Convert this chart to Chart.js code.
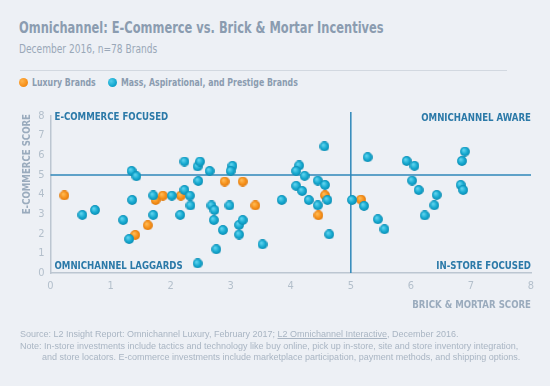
<!DOCTYPE html>
<html lang="en">
<head>
<meta charset="UTF-8" />
<title>Omnichannel: E-Commerce vs. Brick & Mortar Incentives</title>
<script src="https://cdn.jsdelivr.net/npm/chart.js"></script>
<style>
  body { margin: 0; background: #edf0f5; width: 550px; height: 386px; overflow: hidden; position: relative;
         font-family: "DejaVu Sans Condensed", "Liberation Sans", sans-serif; }
  #chart { position: absolute; left: 0; top: 0; }
  .cond { display: inline-block; transform-origin: 0 50%; white-space: nowrap; }
  .title { position: absolute; left: 19px; top: 18px; font-size: 16.5px; font-weight: bold; color: #8b9cb0; transform: scaleX(0.77); }
  .sub { position: absolute; left: 19px; top: 42px; font-size: 12px; color: #9aa8b8; transform: scaleX(0.84); }
  .rule { position: absolute; left: 20px; top: 70px; width: 487px; height: 1px; background: #d2d8e0; }
  .dot { position: absolute; top: 78px; width: 9px; height: 9px; border-radius: 50%; }
  .leg { position: absolute; top: 76px; font-size: 11px; font-weight: bold; color: #8b9cb0; transform: scaleX(0.79); }
  .foot { position: absolute; left: 20px; top: 329px; font-family: "Liberation Sans", sans-serif; font-size: 9px; line-height: 11.5px; color: #a9b5c3; white-space: nowrap; }
  .foot u { text-decoration: underline; }
</style>
</head>
<body>
  <div class="cond title">Omnichannel: E-Commerce vs. Brick &amp; Mortar Incentives</div>
  <div class="cond sub">December 2016, n=78 Brands</div>
  <div class="rule"></div>
  <span class="dot" style="left: 19px; background: radial-gradient(circle at 35% 35%, #ffb44d, #f7901a 60%, #e27c0e);"></span>
  <span class="cond leg" style="left: 32px;">Luxury Brands</span>
  <span class="dot" style="left: 108px; background: radial-gradient(circle at 35% 35%, #52cdea, #14a7cf 60%, #0d8db3);"></span>
  <span class="cond leg" style="left: 121px;">Mass, Aspirational, and Prestige Brands</span>
  <canvas id="chart" width="550" height="386"></canvas>
  <div class="foot">
    Source: L2 Insight Report: Omnichannel Luxury, February 2017; <u>L2 Omnichannel Interactive</u>, December 2016.<br>
    Note: In-store investments include tactics and technology like buy online, pick up in-store, site and store inventory integration,<br>
    <span style="padding-left: 22px;">and store locators. E-commerce investments include marketplace participation, payment methods, and shipping options.</span>
  </div>

<script>
// Luxury brands (orange)
const luxuryX = [0.23, 1.41, 1.62, 1.75, 1.87, 2.17, 2.90, 3.20, 3.41, 4.57, 4.46, 5.17];
const luxuryY = [3.95, 1.94, 2.43, 3.72, 3.94, 3.94, 4.66, 4.66, 3.44, 3.96, 2.94, 3.74];

// Mass, aspirational and prestige brands (cyan)
const massX = [0.53, 0.74, 1.21, 1.35, 1.43, 1.36, 1.31, 1.71, 1.71, 2.02, 2.16, 2.23, 2.23, 2.32, 2.33,
               2.45, 2.49, 2.46, 2.45, 2.65, 2.68, 2.73, 2.72, 2.76, 2.87, 2.98, 3.03, 3.00, 3.14, 3.20,
               3.14, 3.53, 3.85, 4.14, 4.09, 4.23, 4.09, 4.19, 4.30, 4.45, 4.57, 4.56, 4.45, 4.61, 4.64,
               5.02, 5.22, 5.28, 5.45, 5.56, 5.93, 6.06, 6.02, 6.13, 6.43, 6.39, 6.23, 6.90, 6.85, 6.83, 6.87];
const massY = [2.96, 3.21, 2.70, 5.20, 4.93, 3.72, 1.73, 3.95, 2.96, 3.94, 2.96, 5.68, 4.23, 3.94, 3.44,
               5.43, 5.68, 4.69, 0.49, 5.20, 3.44, 3.21, 2.70, 1.21, 2.19, 3.44, 5.46, 5.20, 2.45, 2.70,
               1.96, 1.46, 3.72, 5.48, 5.20, 4.95, 4.44, 4.18, 3.72, 4.71, 4.49, 6.45, 3.45, 3.72, 1.97,
               3.72, 3.42, 5.90, 2.74, 2.23, 5.71, 5.46, 4.71, 4.23, 3.98, 3.45, 2.93, 6.19, 5.71, 4.49, 4.23];

const tickValues = [0, 1, 2, 3, 4, 5, 6, 7, 8];
const xTitle = 'BRICK & MORTAR SCORE';
const yTitle = 'E-COMMERCE SCORE';

// shaded ball used as point image
function ball(light, mid, dark) {
  const c = document.createElement('canvas');
  c.width = 10; c.height = 10;
  const g = c.getContext('2d');
  const grad = g.createRadialGradient(3.6, 3.4, 0.5, 5, 5, 5);
  grad.addColorStop(0, light);
  grad.addColorStop(0.6, mid);
  grad.addColorStop(1, dark);
  g.fillStyle = grad;
  g.beginPath();
  g.arc(5, 5, 4.9, 0, Math.PI * 2);
  g.fill();
  return c;
}

const toPoints = (xs, ys) => xs.map((v, i) => ({ x: v, y: ys[i] }));

const labelFont = 'bold 11px "DejaVu Sans Condensed", sans-serif';
const squeeze = 0.87;

// condensed text on the canvas
function condText(ctx, text, x, y, align) {
  ctx.save();
  ctx.translate(x, y);
  ctx.scale(squeeze, 1);
  ctx.textAlign = align;
  ctx.fillText(text, 0, 0);
  ctx.restore();
}

const quadrants = {
  id: 'quadrants',
  beforeDatasetsDraw(chart) {
    const { ctx, scales: { x, y } } = chart;
    ctx.save();
    ctx.strokeStyle = '#2f87b9';
    ctx.lineWidth = 1.5;
    ctx.beginPath();
    ctx.moveTo(x.getPixelForValue(0), y.getPixelForValue(5));
    ctx.lineTo(x.getPixelForValue(8), y.getPixelForValue(5));
    ctx.moveTo(x.getPixelForValue(5), y.getPixelForValue(8.2));
    ctx.lineTo(x.getPixelForValue(5), y.getPixelForValue(0));
    ctx.stroke();

    ctx.font = labelFont;
    ctx.fillStyle = '#2b79a8';
    ctx.textBaseline = 'middle';
    const l = x.getPixelForValue(0) + 4, r = x.getPixelForValue(8);
    const t = y.getPixelForValue(8) + 1, b = y.getPixelForValue(0) - 7;
    condText(ctx, 'E-COMMERCE FOCUSED', l, t, 'left');
    condText(ctx, 'OMNICHANNEL LAGGARDS', l, b, 'left');
    condText(ctx, 'OMNICHANNEL AWARE', r, t + 1, 'right');
    condText(ctx, 'IN-STORE FOCUSED', r, b, 'right');
    ctx.restore();
  },
  afterDraw(chart) {
    const { ctx, scales: { x, y } } = chart;
    ctx.save();
    ctx.font = labelFont;
    ctx.fillStyle = '#9aabbd';
    ctx.textBaseline = 'middle';
    condText(ctx, xTitle, x.getPixelForValue(8), 305, 'right');
    ctx.translate(27, y.getPixelForValue(8) - 2);
    ctx.rotate(-Math.PI / 2);
    condText(ctx, yTitle, 0, 0, 'right');
    ctx.restore();
  }
};

const axisTicks = {
  color: '#b3bfcb',
  font: { family: '"DejaVu Sans Condensed", sans-serif', size: 11 },
  stepSize: 1,
  autoSkip: false
};

new Chart(document.getElementById('chart'), {
  type: 'scatter',
  data: {
    datasets: [
      {
        label: 'Mass, Aspirational, and Prestige Brands',
        data: toPoints(massX, massY),
        pointStyle: ball('#5fd3ee', '#16a9d0', '#0c8bb1'),
        pointRadius: 5
      },
      {
        label: 'Luxury Brands',
        data: toPoints(luxuryX, luxuryY),
        pointStyle: ball('#ffbb55', '#f7911b', '#de790c'),
        pointRadius: 5
      }
    ]
  },
  options: {
    responsive: false,
    animation: false,
    layout: { padding: { top: 116, right: 19, left: 0, bottom: 0 } },
    plugins: { legend: { display: false }, tooltip: { enabled: false } },
    scales: {
      x: {
        min: 0, max: 8,
        afterBuildTicks: s => { s.ticks = tickValues.map(v => ({ value: v })); },
        afterFit: s => { s.height = 113; },
        ticks: { ...axisTicks, padding: 7 },
        grid: { display: false, drawTicks: false },
        border: { display: true, color: '#bcc6d1', width: 1.5, dash: [1.5, 3] }
      },
      y: {
        min: 0, max: 8,
        afterBuildTicks: s => { s.ticks = tickValues.map(v => ({ value: v })); },
        afterFit: s => { s.width = 50.5; },
        ticks: { ...axisTicks, padding: 6 },
        grid: { display: false, drawTicks: false },
        border: { display: true, color: '#bcc6d1', width: 1.5, dash: [1.5, 3] }
      }
    }
  },
  plugins: [quadrants]
});
</script>
</body>
</html>
